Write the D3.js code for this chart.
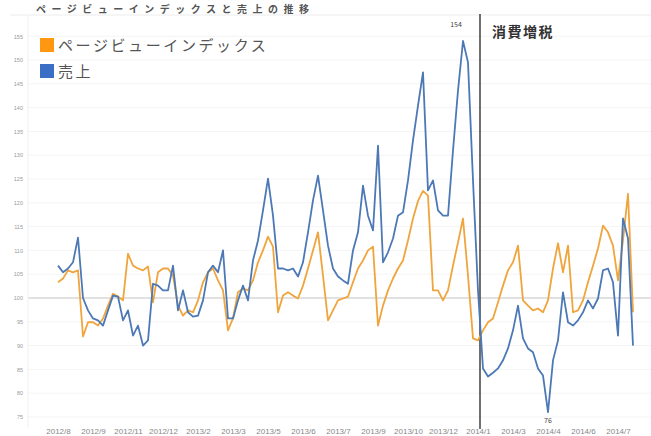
<!DOCTYPE html>
<html>
<head>
<meta charset="utf-8">
<script src="https://cdn.jsdelivr.net/npm/d3@7"></script>
<style>
  body { margin:0; background:#fff; }
  svg { display:block; font-family:"Noto Sans CJK JP", "Noto Sans", sans-serif; }
</style>
</head>
<body>
<svg id="chart" width="651" height="436"></svg>
<script>
// series (index = week number)
var pvIndex = [103.3,104.1,105.8,105.4,105.8,91.9,94.9,94.9,94.2,95.7,98.4,100.9,100.3,99.5,109.3,106.8,106.2,105.8,106.6,99.1,
  105.4,106.2,106.2,104.7,98.4,96.3,97.4,97,99.5,103.3,105.4,106.2,103.7,101.6,93.2,95.7,101.2,102,101.6,103.7,
  107.5,110,112.9,110.8,97,100.5,101.2,100.5,99.9,102.6,106.2,110,113.8,104.7,95.3,97.4,99.5,99.9,100.3,103.3,
  106.2,107.9,110,110.8,94.2,98.4,101.6,104.1,106.2,107.9,112.1,116.7,120.4,122.5,121.5,101.6,101.6,99.5,101.6,106.8,
  111.7,116.7,104.7,91.5,91.1,93.2,94.9,95.7,99.1,102.6,105.8,107.5,111,99.5,98.4,97.4,97.8,97,99.5,106.2,
  111.5,105.4,111,97,97.4,99.5,103.3,106.8,110.4,115.2,113.8,111,103.7,112.1,121.9,97];

var sales = [106.8,105.4,106.2,107.5,112.7,100,97.4,95.7,95.3,94.2,97.4,100.5,100.3,95.3,97.4,92.1,94.2,90,91.1,103,
  102.6,101.6,101.6,106.8,97.4,101.6,97,96.1,96.3,99.5,105.4,106.8,105.4,110,95.7,95.7,99.5,102.6,99.5,107.9,
  112.1,118.4,125.1,117.3,106.2,106.2,105.8,106.2,104.5,107.5,113.8,120.5,125.7,118.4,111,106.2,104.5,103.7,103,110,
  113.8,123.6,117.3,114.2,132,107.5,109.6,112.5,117.3,118,124.7,133.1,140.4,147.4,122.6,124.7,118.4,117.3,117.3,131,
  143.6,154,149.5,124.7,101.6,85.2,83.5,84.3,85.2,86.9,89.4,93.2,98.4,91.5,89.4,88.6,85.2,83.7,76,86.9,
  91.1,101.2,94.9,94.2,95.3,97,99.5,97.8,99.9,105.8,106.2,103.3,92.1,116.7,112.5,90];

var seriesNames = ["ページビューインデックス", "売上"];
var seriesColors = ["#f0a43c", "#4c79b6"];
var legendColors = ["#ff9710", "#3b6fc6"];

var yTicks = [75,80,85,90,95,100,105,110,115,120,125,130,135,140,145,150,155];
var xTickIdx = [0,7,14,21,28,35,42,49,56,63,70,77,84,91,98,105,112];
var xTickLabels = ["2012/8","2012/9","2012/11","2012/12","2013/2","2013/3","2013/5","2013/6","2013/7",
  "2013/9","2013/10","2013/12","2014/1","2014/3","2014/4","2014/6","2014/7"];

var taxIdx = 84.4;          // 消費増税
var taxLabel = "消費増税";
var title = "ページビューインデックスと売上の推移";

var svg = d3.select("#chart");
var width = 651, height = 436;

// Scales
var x = d3.scaleLinear().domain([0, pvIndex.length - 1]).range([58, 633]);
var y = d3.scaleLinear().domain([73, 159.4]).range([426.5, 15.3]);

// title (squeezed into the strip above the top border)
svg.append("text")
    .attr("x", 36)
    .attr("y", 12.5)
    .attr("font-size", "10px")
    .attr("font-weight", "bold")
    .attr("letter-spacing", "5.5px")
    .attr("fill", "#555")
    .text(title);

// top border
svg.append("line")
    .attr("x1", 10).attr("x2", width)
    .attr("y1", 15).attr("y2", 15)
    .attr("stroke", "#ececec");

// grid
svg.append("g").selectAll("line")
    .data(yTicks)
    .enter().append("line")
        .attr("x1", 28).attr("x2", width)
        .attr("y1", function(d){ return y(d); })
        .attr("y2", function(d){ return y(d); })
        .attr("stroke", function(d){ return d === 100 ? "#c4c4c4" : "#f4f4f4"; })
        .attr("stroke-width", function(d){ return d === 100 ? 1.2 : 1; });

svg.append("line")
    .attr("x1", 28).attr("x2", 28)
    .attr("y1", 15).attr("y2", 428)
    .attr("stroke", "#f0f0f0");

// Y Axis
var yAxisCall = d3.axisLeft(y).tickValues(yTicks).tickSize(0).tickPadding(2);
var yAxis = svg.append("g")
    .attr("transform", "translate(25,0)")
    .call(yAxisCall);
yAxis.select(".domain").remove();
yAxis.selectAll("text")
    .attr("font-size", "5.5px")
    .attr("fill", "#999");

// X Axis
var xAxisCall = d3.axisBottom(x).tickValues(xTickIdx)
    .tickFormat(function(d, i){ return xTickLabels[i]; })
    .tickSize(0).tickPadding(0);
var xAxis = svg.append("g")
    .attr("transform", "translate(0,428)")
    .call(xAxisCall);
xAxis.select(".domain").remove();
xAxis.selectAll("text")
    .attr("font-size", "8px")
    .attr("fill", "#888");

// tax line
svg.append("line")
    .attr("x1", x(taxIdx)).attr("x2", x(taxIdx))
    .attr("y1", 14).attr("y2", 429)
    .attr("stroke", "#333")
    .attr("stroke-width", 1.4);

svg.append("text")
    .attr("x", x(taxIdx) + 12)
    .attr("y", 37)
    .attr("font-size", "14px")
    .attr("font-weight", "bold")
    .attr("letter-spacing", "1.5px")
    .attr("fill", "#333")
    .text(taxLabel);

// lines
var line = d3.line()
    .x(function(d, i){ return x(i); })
    .y(function(d){ return y(d); });

[pvIndex, sales].forEach(function(s, k){
    svg.append("path")
        .datum(s)
        .attr("fill", "none")
        .attr("stroke", seriesColors[k])
        .attr("stroke-width", 1.8)
        .attr("stroke-linejoin", "round")
        .attr("d", line);
});

// max / min labels
var maxI = d3.maxIndex(sales), minI = d3.minIndex(sales);
svg.append("text")
    .attr("x", x(maxI) - 7)
    .attr("y", y(sales[maxI]) - 14)
    .attr("text-anchor", "middle")
    .attr("font-size", "7px")
    .attr("fill", "#444")
    .text(sales[maxI]);
svg.append("text")
    .attr("x", x(minI))
    .attr("y", y(sales[minI]) + 11)
    .attr("text-anchor", "middle")
    .attr("font-size", "7px")
    .attr("fill", "#444")
    .text(sales[minI]);

// legend
var legend = svg.append("g").attr("transform", "translate(40,38)");
seriesNames.forEach(function(name, k){
    legend.append("rect")
        .attr("x", 0).attr("y", k * 26)
        .attr("width", 14).attr("height", 14)
        .attr("fill", legendColors[k]);
    legend.append("text")
        .attr("x", 18).attr("y", k * 26 + 13)
        .attr("font-size", "15px")
        .attr("letter-spacing", "2.6px")
        .attr("fill", "#555")
        .text(name);
});
</script>
</body>
</html>
